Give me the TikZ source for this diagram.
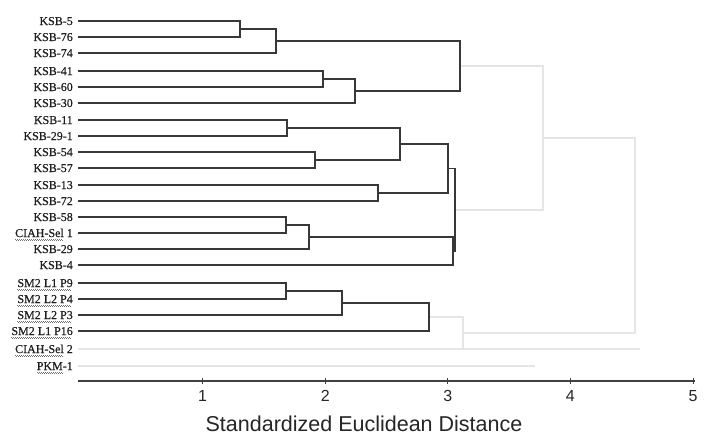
\documentclass[tikz,border=0pt]{standalone}
\usepackage{fontspec}
\setmainfont{Liberation Serif}
\newfontfamily\lblfont{Liberation Serif}[FakeBold=0.5]
\newfontfamily\axisfont{Liberation Sans}
\newsavebox\wavbox
\newcommand\wav[1]{\sbox\wavbox{#1}\rlap{\leaders\hbox{\textcolor{black!55}{\rule[-2.4pt]{1pt}{0.6pt}\rule[-3.1pt]{1pt}{0.6pt}}}\hskip\wd\wavbox}\usebox\wavbox}
\begin{document}
\begin{tikzpicture}[x=1pt,y=-1pt,
  lbl/.style={anchor=base east, inner sep=0pt, font=\lblfont\fontsize{12}{12}\selectfont, text=black!88},
  den/.style={draw=black!78, line width=1.2pt},
  faint/.style={draw=black!10, line width=1.8pt},
  axisline/.style={draw=black!75, line width=1.1pt},
  ticklbl/.style={font=\axisfont\fontsize{16}{16}\selectfont, text=black!85, inner sep=0pt},
  titlelbl/.style={font=\axisfont\fontsize{21.5}{21.5}\selectfont, text=black!85, inner sep=0pt}]
\fill[white] (0,0) rectangle (716,439);
\useasboundingbox (0,0) rectangle (716,439);
% leaves
\foreach \i/\y/\t in {1/21/KSB-5, 2/37/KSB-76, 3/53/KSB-74, 4/71/KSB-41, 5/87/KSB-60, 6/103/KSB-30,
  7/120/KSB-11, 8/136/KSB-29-1, 9/152/KSB-54, 10/168/KSB-57, 11/185/KSB-13, 12/201/KSB-72,
  13/217/KSB-58, 14/233/{\wav{CIAH-Sel} 1}, 15/249/KSB-29, 16/265/KSB-4,
  17/283/{\wav{SM2 L1 P9}}, 18/299/{\wav{SM2 L2 P4}}, 19/315/{\wav{SM2 L2 P3}}, 20/331/{\wav{SM2 L1 P16}},
  21/349/{\wav{CIAH-Sel} 2}, 22/366/{\wav{PKM}-1}}{
  \node[lbl] (t\i) at (73,\y+4) {\t};
  \coordinate (l\i) at (78,\y);
}
% merge points
\coordinate (m1) at (240,29);
\coordinate (m2) at (276,41);
\coordinate (m3) at (323,79);
\coordinate (m4) at (355,91);
\coordinate (m5) at (460,66);
\coordinate (m6) at (287,128);
\coordinate (m7) at (315,160);
\coordinate (m8) at (400,144);
\coordinate (m9) at (378,193);
\coordinate (m10) at (448,168.5);
\coordinate (m11) at (286,225);
\coordinate (m12) at (309,237);
\coordinate (m13) at (453,251);
\coordinate (m14) at (455,210);
\coordinate (m15) at (286,291);
\coordinate (m16) at (342,303);
\coordinate (m17) at (429,317);
\coordinate (m18) at (463,333);
\coordinate (m19) at (543,138);
\coordinate (m20) at (635,235.5);
\coordinate (e21) at (640,349);
\coordinate (e22) at (535,366);
% faint part
\draw[faint] (m17) -| (m18) |- (l21);
\draw[faint] (l21) -- (e21);
\draw[faint] (l22) -- (e22);
\draw[faint] (m5) -| (m19) |- (m14);
\draw[faint] (m19) -| (m20) |- (m18);
% dark dendrogram
\draw[den] (l1) -| (m1) |- (l2);
\draw[den] (m1) -| (m2) |- (l3);
\draw[den] (l4) -| (m3) |- (l5);
\draw[den] (m3) -| (m4) |- (l6);
\draw[den] (m2) -| (m5) |- (m4);
\draw[den] (l7) -| (m6) |- (l8);
\draw[den] (l9) -| (m7) |- (l10);
\draw[den] (m6) -| (m8) |- (m7);
\draw[den] (l11) -| (m9) |- (l12);
\draw[den] (m8) -| (m10) |- (m9);
\draw[den] (l13) -| (m11) |- (l14);
\draw[den] (m11) -| (m12) |- (l15);
\draw[den] (m12) -| (m13) |- (l16);
\draw[den] (m10) -| (m14) |- (m13);
\draw[den] (l17) -| (m15) |- (l18);
\draw[den] (m15) -| (m16) |- (l19);
\draw[den] (m16) -| (m17) |- (l20);
% axis
\coordinate (a0) at (78,381);
\coordinate (a5) at (695,381);
\draw[axisline] (a0) -- (a5);
\foreach \k in {1,...,5}{
  \coordinate (tk\k) at ({80+122.6*\k},381);
  \draw[axisline, line width=0.9pt] ([yshift=3pt]tk\k) -- ([yshift=-3pt]tk\k);
  \node[ticklbl] (n\k) at ({80+122.6*\k},396) {\k};
}
\node[titlelbl] (title) at (364,424) {Standardized Euclidean Distance};
\end{tikzpicture}
\end{document}
